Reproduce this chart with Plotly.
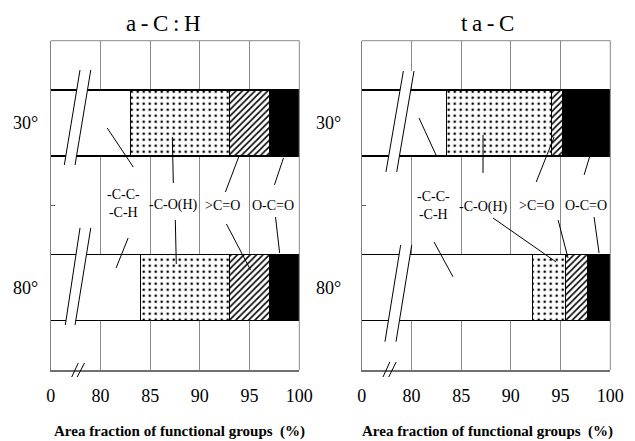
import plotly.graph_objects as go

# ---------------- data ----------------
angles = ["30°", "80°"]
group_labels = ["-C-C-<br>-C-H", "-C-O(H)", ">C=O", "O-C=O"]

ach_cc = [83.0, 84.0]
ach_coh = [10.0, 9.0]
ach_co = [4.0, 4.0]
ach_oco = [3.0, 3.0]

tac_cc = [83.5, 92.2]
tac_coh = [10.6, 3.3]
tac_co = [1.1, 2.2]
tac_oco = [4.8, 2.3]

x_tickvals = [75, 80, 85, 90, 95, 100]
x_ticktext = ["0", "80", "85", "90", "95", "100"]

panel_titles = ["a\u2009-\u2009C\u2009:\u2009H", "t\u2009a\u2009-\u2009C"]
axis_title = "Area fraction of functional groups&nbsp;&nbsp;(%)"

# ---------------- styles ----------------
SERIF = "'Liberation Serif', 'Times New Roman', Times, serif"
styles = [
    dict(color="white"),
    dict(color="white", pattern=dict(shape=".", fgcolor="black", bgcolor="white",
                                     size=6, solidity=0.15)),
    dict(color="white", pattern=dict(shape="/", fgcolor="black", bgcolor="white",
                                     size=4.5, solidity=0.35)),
    dict(color="black"),
]

fig = go.Figure()
panels = [
    ("x", "y", [ach_cc, ach_coh, ach_co, ach_oco]),
    ("x2", "y2", [tac_cc, tac_coh, tac_co, tac_oco]),
]
for xa, ya, series in panels:
    for vals, st, name in zip(series, styles, group_labels):
        fig.add_trace(go.Bar(
            y=angles, x=vals, orientation="h", xaxis=xa, yaxis=ya,
            width=0.4, name=name, showlegend=False,
            marker=dict(**st, line=dict(color="black", width=1.3)),
            hoverinfo="x+y",
        ))

fig.update_layout(barmode="stack", template="none")

axis_common_x = dict(
    range=[75, 100], tickvals=x_tickvals, ticktext=x_ticktext,
    showgrid=True, gridcolor="#8a8a8a", gridwidth=1,
    showline=True, linecolor="#707070", linewidth=2,
    ticks="", zeroline=False, ticklabelstandoff=8, automargin=False,
    tickfont=dict(family=SERIF, size=18, color="black"),
)
axis_common_y = dict(
    type="category", categoryarray=angles, range=[1.5, -0.5],
    showgrid=False, showline=True, linecolor="#808080", linewidth=1,
    ticks="inside", tickson="boundaries", ticklen=4, tickcolor="#606060",
    automargin=False, zeroline=False,
    tickfont=dict(family=SERIF, size=18, color="black"),
)
ydom = [(441 - 370) / 441, (441 - 40.7) / 441]
fig.update_layout(
    xaxis=dict(domain=[50.7 / 635, 299.3 / 635], anchor="y", **axis_common_x),
    yaxis=dict(domain=ydom, anchor="x", ticklabelstandoff=8, **axis_common_y),
    xaxis2=dict(domain=[361.7 / 635, 610.3 / 635], anchor="y2", **axis_common_x),
    yaxis2=dict(domain=ydom, anchor="x2", ticklabelstandoff=16, **axis_common_y),
    width=635, height=441,
    margin=dict(l=0, r=0, t=0, b=0, pad=0, autoexpand=False),
    paper_bgcolor="white", plot_bgcolor="white",
    font=dict(family=SERIF, color="black"),
)

shapes = []
annotations = []

# top / right gray borders
for xr, yr in [("x", "y"), ("x2", "y2")]:
    shapes.append(dict(type="line", xref=xr + " domain", yref=yr + " domain",
                       x0=0, x1=1, y0=1, y1=1, line=dict(color="#8a8a8a", width=1)))
    shapes.append(dict(type="line", xref=xr + " domain", yref=yr + " domain",
                       x0=1, x1=1, y0=0, y1=1, line=dict(color="#8a8a8a", width=1)))

# axis-break parallelograms across the bars (data coords)
breaks = {
    ("x", "y"): [((77.95, -0.322), (79.03, -0.322), (77.45, 0.255), (76.37, 0.255)),
                 ((77.95, 0.637), (79.03, 0.637), (77.45, 1.227), (76.47, 1.227))],
    ("x2", "y2"): [((79.19, -0.316), (80.26, -0.316), (78.52, 0.297), (77.44, 0.297)),
                   ((78.92, 0.741), (80.03, 0.741), (78.45, 1.328), (77.34, 1.328))],
}
for (xr, yr), quads in breaks.items():
    for a, b, c, d in quads:
        path = f"M {a[0]},{a[1]} L {b[0]},{b[1]} L {c[0]},{c[1]} L {d[0]},{d[1]} Z"
        shapes.append(dict(type="path", xref=xr, yref=yr, path=path,
                           fillcolor="white", line=dict(width=0)))
        shapes.append(dict(type="line", xref=xr, yref=yr, x0=a[0], y0=a[1], x1=d[0], y1=d[1],
                           line=dict(color="black", width=1)))
        shapes.append(dict(type="line", xref=xr, yref=yr, x0=b[0], y0=b[1], x1=c[0], y1=c[1],
                           line=dict(color="black", width=1)))

# "//" marks on the bottom axis (pixel positions -> paper)
def px(x, y):
    return x / 635, (441 - y) / 441

for (xa0, ya0, xa1, ya1) in [(71.7, 377, 78.3, 363), (77.2, 377, 84.5, 363),
                             (383.0, 377, 389.8, 362), (388.7, 377, 396.2, 362)]:
    p0 = px(xa0, ya0)
    p1 = px(xa1, ya1)
    shapes.append(dict(type="line", xref="paper", yref="paper",
                       x0=p0[0], y0=p0[1], x1=p1[0], y1=p1[1],
                       line=dict(color="black", width=1)))

# leader lines (data coords)
leaders = {
    ("x", "y"): [
        (80.68, 0.030, 83.30, 0.267), (82.79, 0.698, 81.58, 0.880),
        (87.23, 0.085, 87.33, 0.364), (87.53, 0.589, 87.63, 0.856),
        (93.98, 0.194, 92.57, 0.419), (92.67, 0.613, 95.09, 0.892),
        (98.41, 0.212, 97.50, 0.376), (97.61, 0.571, 98.02, 0.789),
    ],
    ("x2", "y2"): [
        (80.76, -0.031, 82.47, 0.194), (82.27, 0.722, 84.18, 0.934),
        (87.20, 0.073, 87.20, 0.303), (88.21, 0.577, 94.55, 0.844),
        (94.35, 0.085, 92.55, 0.358), (94.75, 0.589, 95.75, 0.820),
        (97.97, 0.194, 97.37, 0.315), (98.37, 0.571, 98.87, 0.789),
    ],
}
for (xr, yr), segs in leaders.items():
    for x0, y0, x1, y1 in segs:
        shapes.append(dict(type="line", xref=xr, yref=yr, x0=x0, y0=y0, x1=x1, y1=y1,
                           line=dict(color="black", width=1)))

# group labels
label_pos = {
    ("x", "y"): [(82.29, 0.49), (87.33, 0.498), (92.27, 0.498), (97.31, 0.498)],
    ("x2", "y2"): [(82.17, 0.50), (87.2, 0.51), (92.6, 0.498), (97.6, 0.498)],
}
for (xr, yr), poss in label_pos.items():
    for (lx, ly), txt in zip(poss, group_labels):
        annotations.append(dict(xref=xr, yref=yr, x=lx, y=ly, text=txt, showarrow=False,
                                font=dict(family=SERIF, size=14, color="black"),
                                align="center", bgcolor="rgba(0,0,0,0)"))

# panel titles
for cx, t in zip([163.5, 487.5], panel_titles):
    annotations.append(dict(xref="paper", yref="paper", x=cx / 635, y=(441 - 23) / 441,
                            text=t, showarrow=False, xanchor="center", yanchor="middle",
                            font=dict(family=SERIF, size=23, color="black")))
# axis titles
for cx in [179.5, 487.5]:
    annotations.append(dict(xref="paper", yref="paper", x=cx / 635, y=(441 - 431) / 441,
                            text=f"<b>{axis_title}</b>", showarrow=False,
                            xanchor="center", yanchor="middle",
                            font=dict(family=SERIF, size=15, color="black")))

fig.update_layout(shapes=shapes, annotations=annotations)
fig.write_html("out.html",
               config={"displayModeBar": False},
               post_script="document.body.style.margin='0';document.body.style.overflow='hidden';")
